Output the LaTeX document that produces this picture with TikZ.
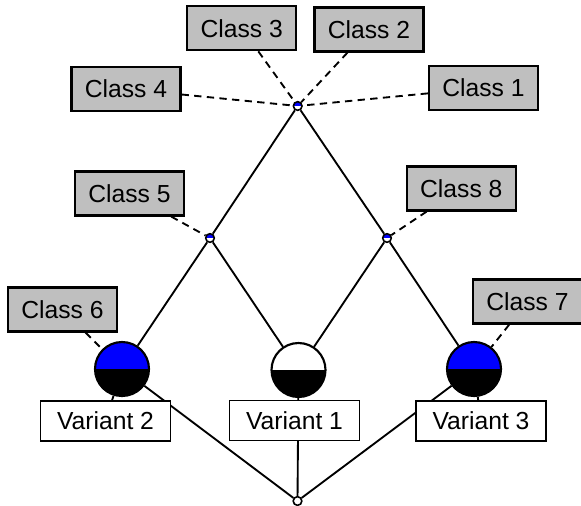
\documentclass[tikz,border=0pt]{standalone}
\usepackage{fontspec}
\setmainfont{Liberation Sans}
\usetikzlibrary{backgrounds}
\tikzset{
  classbox/.style={draw, line width=1.6pt, fill=gray!50, minimum width=81.75pt, minimum height=33pt, inner sep=0pt},
  variantbox/.style={draw, line width=1.3pt, fill=white, minimum width=97.5pt, minimum height=30pt, inner sep=0pt},
  ball/.style={circle, draw, line width=1.6pt, minimum size=40.5pt, inner sep=0pt,
    path picture={\fill[#1] (path picture bounding box.west) rectangle (path picture bounding box.north east);
      \fill[black] (path picture bounding box.west) rectangle (path picture bounding box.south east);}},
  joint/.style={circle, draw, line width=1.2pt, minimum size=6.5pt, inner sep=0pt, fill=white,
    path picture={\fill[#1] (path picture bounding box.west) rectangle (path picture bounding box.north east);}},
  leg/.style={line width=1.4pt},
  tag/.style={line width=1.4pt, dash pattern=on 5.5pt off 4pt}
}
\begin{document}
\begin{tikzpicture}[x=0.75pt, y=-0.75pt, font=\fontsize{18.5}{22}\selectfont]
  \useasboundingbox (0,0) rectangle (581,506);
  \node[joint=blue] (top) at (297.7,106) {};
  \node[joint=blue] (midl) at (210,238) {};
  \node[joint=blue] (midr) at (387,238) {};
  \node[joint=white] (bot) at (297.5,501) {};
  \node[ball=blue] (ball2) at (122,369) {};
  \node[ball=white] (ball1) at (298.5,370) {};
  \node[ball=blue] (ball3) at (474,369) {};
  \node[variantbox] (var2) at (105.5,421) {Variant 2};
  \node[variantbox] (var1) at (294.5,420.5) {Variant 1};
  \node[variantbox] (var3) at (481,421) {Variant 3};
  \node[classbox] (cl1) at (483.5,88) {Class 1};
  \node[classbox] (cl2) at (369,29.5) {Class 2};
  \node[classbox] (cl3) at (241.7,28.3) {Class 3};
  \node[classbox] (cl4) at (126,89) {Class 4};
  \node[classbox] (cl5) at (129.5,193.5) {Class 5};
  \node[classbox] (cl6) at (62.5,309.5) {Class 6};
  \node[classbox] (cl7) at (527.5,301.5) {Class 7};
  \node[classbox] (cl8) at (461.3,188.5) {Class 8};
  \begin{scope}[on background layer]
    \draw[leg] (top) -- (midl) -- (ball2);
    \draw[leg] (top) -- (midr) -- (ball3);
    \draw[leg] (midl) -- (ball1) -- (midr);
    \draw[leg] (ball2) -- (bot) -- (ball3);
    \draw[leg] (ball1) -- (bot);
    \draw[leg] (ball2) -- (var2);
    \draw[leg] (ball3) -- (var3);
    \draw[tag] (cl1) -- (top);
    \draw[tag] (cl2) -- (top);
    \draw[tag] (cl3) -- (top);
    \draw[tag] (cl4) -- (top);
    \draw[tag] (cl5) -- (midl);
    \draw[tag] (cl8) -- (midr);
    \draw[tag] (cl6) -- (ball2);
    \draw[tag] (cl7) -- (ball3);
  \end{scope}
\end{tikzpicture}
\end{document}
